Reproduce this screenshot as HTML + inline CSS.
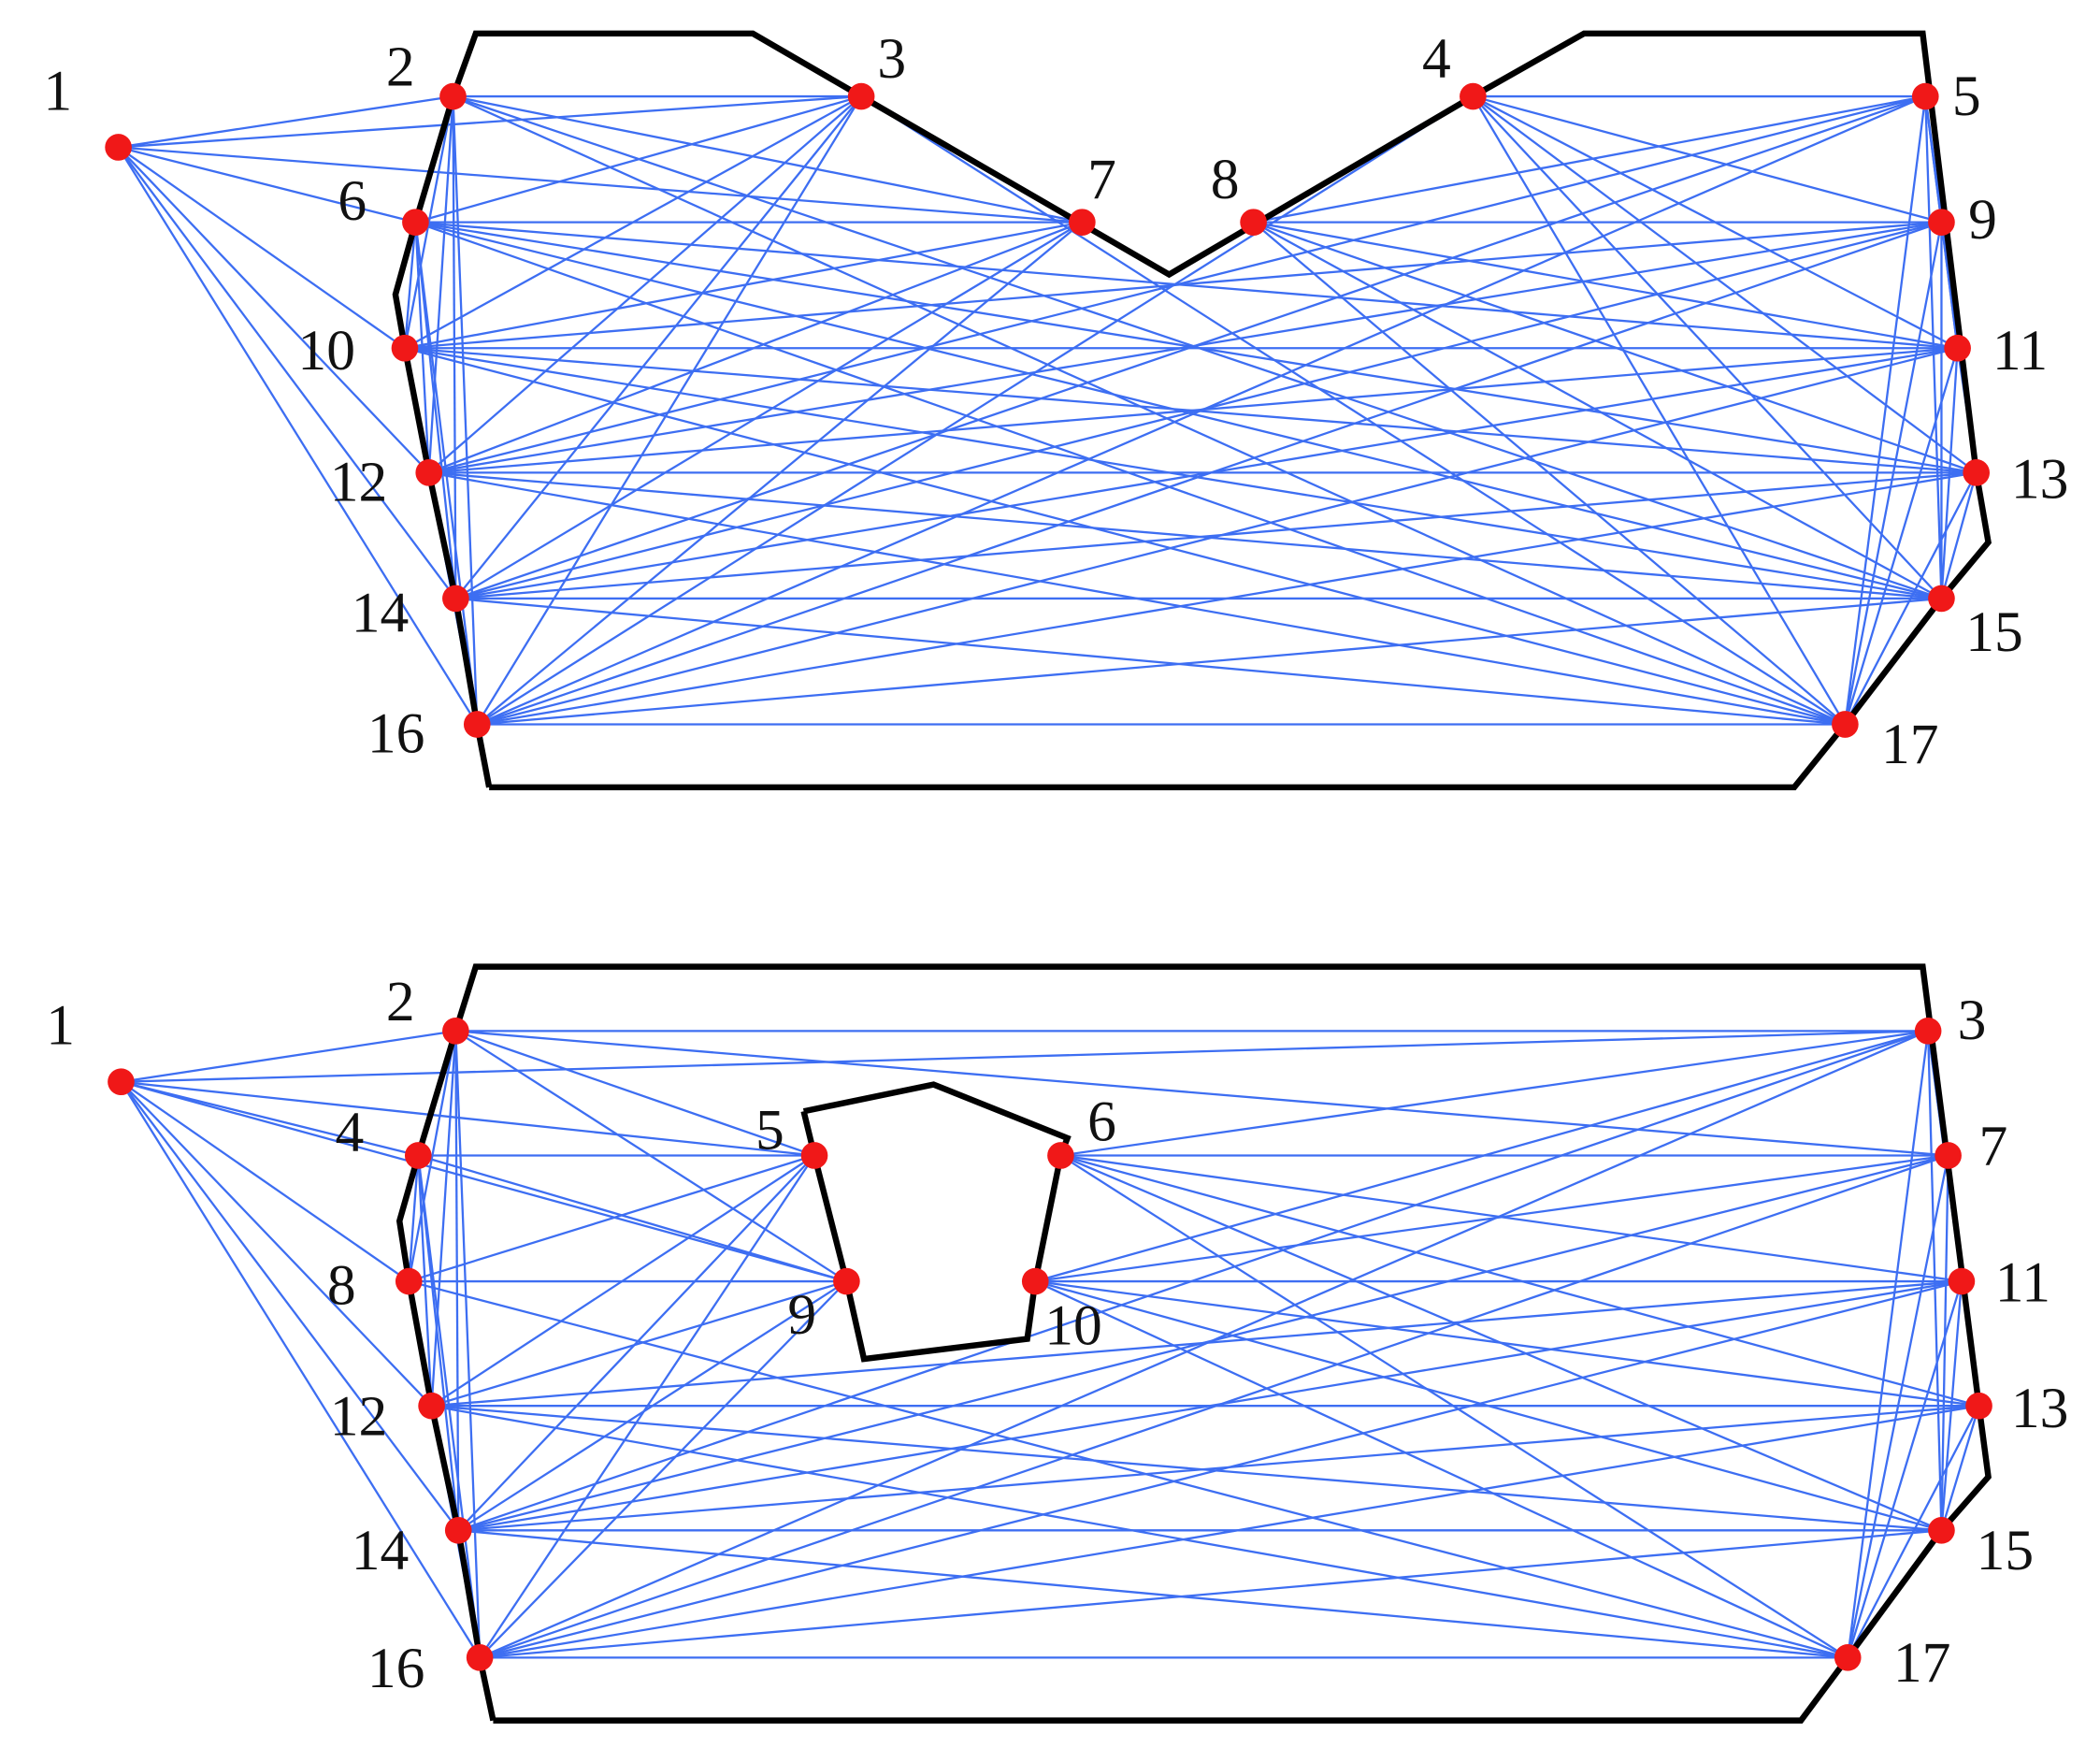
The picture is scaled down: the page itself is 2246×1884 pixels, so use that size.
<!DOCTYPE html>
<html><head><meta charset="utf-8"><style>
html,body{margin:0;padding:0;background:#fff}
svg{display:block}
text{font-family:"Liberation Serif",serif;font-size:43px;fill:#111}
</style></head><body>
<svg id="s" width="2246" height="1884" viewBox="0 0 1568 1316" xmlns="http://www.w3.org/2000/svg">
<g id="edges" stroke="#3d6ef2" stroke-width="1.6" fill="none"></g>
<polyline fill="none" stroke="#000" stroke-width="4.5" stroke-linejoin="miter" points="365,588 356,541 340,447 320,353 302,260 295,220 310,166 338,72 355,25 562,25 643,72 873,205 1100,72 1183,25 1436,25 1476,353 1485,405 1450,447 1378,541 1340,588 365,588"/>
<polyline fill="none" stroke="#000" stroke-width="4.5" points="368,1285 358,1238 342,1143 322,1050 305,957 298,912 312,863 340,770 355,722 1436,722 1478,1050 1485,1103 1450,1143 1380,1238 1345,1285 368,1285"/>
<polyline fill="none" stroke="#000" stroke-width="4.5" points="600,830 697,810 797,850 792,863 773,957 767,1000 645,1015 632,957 608,863 600,830"/>
<g id="dots" fill="#f01818"></g>
<g id="labels">
<text x="32" y="82">1</text><text x="288" y="64">2</text><text x="655" y="58">3</text><text x="1062" y="58">4</text><text x="1458" y="86">5</text>
<text x="252" y="164">6</text><text x="812" y="148">7</text><text x="904" y="148">8</text><text x="1470" y="178">9</text>
<text x="222" y="276">10</text><text x="1488" y="276">11</text><text x="246" y="374">12</text><text x="1502" y="372">13</text>
<text x="262" y="472">14</text><text x="1468" y="486">15</text><text x="274" y="562">16</text><text x="1405" y="570">17</text>
<text x="34" y="780">1</text><text x="288" y="762">2</text><text x="1462" y="776">3</text><text x="250" y="860">4</text><text x="564" y="858">5</text>
<text x="812" y="852">6</text><text x="1478" y="870">7</text><text x="244" y="974">8</text><text x="588" y="996">9</text><text x="780" y="1004">10</text>
<text x="1490" y="972">11</text><text x="246" y="1072">12</text><text x="1502" y="1066">13</text><text x="262" y="1172">14</text><text x="1476" y="1172">15</text>
<text x="274" y="1260">16</text><text x="1414" y="1256">17</text>
</g>
</svg>
<script>
var T={1:[88,110],2:[338,72],3:[643,72],4:[1100,72],5:[1438,72],6:[310,166],7:[808,166],8:[936,166],9:[1450,166],10:[302,260],11:[1462,260],12:[320,353],13:[1476,353],14:[340,447],15:[1450,447],16:[356,541],17:[1378,541]};
var B={1:[90,808],2:[340,770],3:[1440,770],4:[312,863],5:[608,863],6:[792,863],7:[1455,863],8:[305,957],9:[632,957],10:[773,957],11:[1465,957],12:[322,1050],13:[1478,1050],14:[342,1143],15:[1450,1143],16:[358,1238],17:[1380,1238]};
var obsT=[[643,72],[873,205],[1100,72],[1100,0],[643,0]];
var obsB=[[600,830],[697,810],[797,850],[792,863],[773,957],[767,1000],[645,1015],[632,957],[608,863]];
function pip(p,poly){var c=false;for(var i=0,j=poly.length-1;i<poly.length;j=i++){var a=poly[i],b=poly[j];if((a[1]>p[1])!=(b[1]>p[1])&&p[0]<(b[0]-a[0])*(p[1]-a[1])/(b[1]-a[1])+a[0])c=!c;}return c;}
function ok(a,b,poly){for(var t=0.03;t<0.97;t+=0.01){var p=[a[0]+(b[0]-a[0])*t,a[1]+(b[1]-a[1])*t];if(pip(p,poly))return false;}return true;}
var g=document.getElementById('edges'),d=document.getElementById('dots'),ns='http://www.w3.org/2000/svg';
function line(a,b){var l=document.createElementNS(ns,'line');l.setAttribute('x1',a[0]);l.setAttribute('y1',a[1]);l.setAttribute('x2',b[0]);l.setAttribute('y2',b[1]);g.appendChild(l);}
function draw(N,poly,one){for(var i=2;i<=17;i++)for(var j=i+1;j<=17;j++){if(ok(N[i],N[j],poly))line(N[i],N[j]);}
one.forEach(function(k){line(N[1],N[k]);});
for(var k in N){var c=document.createElementNS(ns,'circle');c.setAttribute('cx',N[k][0]);c.setAttribute('cy',N[k][1]);c.setAttribute('r',10);d.appendChild(c);}}
draw(T,obsT,[2,3,6,7,10,12,14,16]);
draw(B,obsB,[2,3,4,5,8,9,12,14,16]);
</script>
</body></html>
